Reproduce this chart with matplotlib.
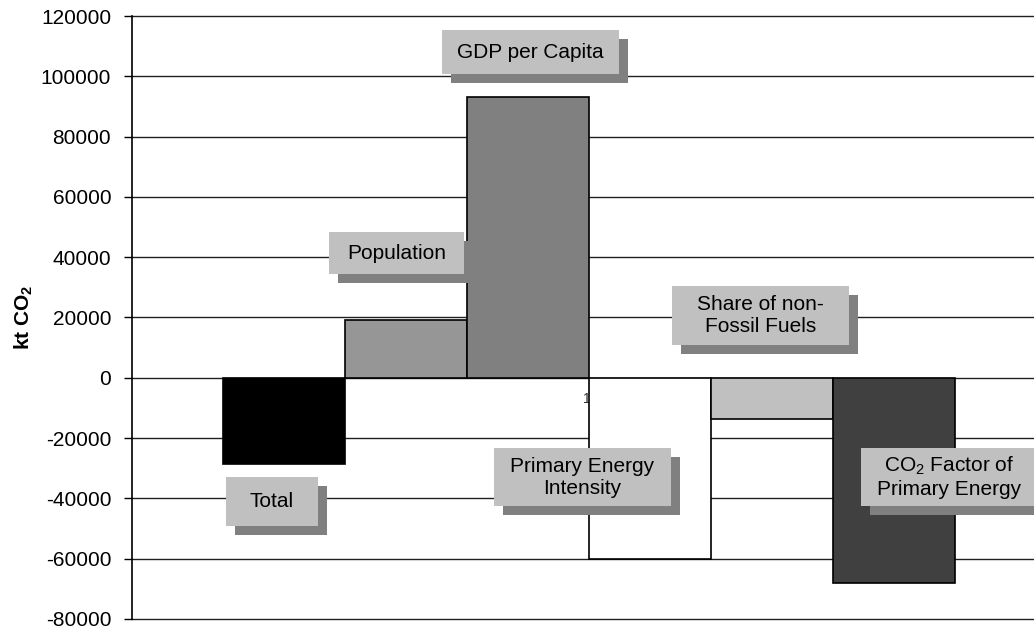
import matplotlib
matplotlib.use("Agg")
import matplotlib.pyplot as plt
from matplotlib.patches import Rectangle
import numpy as np

plt.rcParams['font.family'] = ['Liberation Sans', 'DejaVu Sans']
plt.rcParams['mathtext.fontset'] = 'custom'
plt.rcParams['mathtext.rm'] = 'Liberation Sans'
plt.rcParams['mathtext.bf'] = 'Liberation Sans:bold'
plt.rcParams['mathtext.default'] = 'regular'

# ---- data ----
series = ["Total", "Population", "GDP per Capita", "Primary Energy\nIntensity",
          "Share of non-\nFossil Fuels", "CO$_2$ Factor of\nPrimary Energy"]
values = [-28700, 19300, 93300, -60000, -13600, -68000]
colors = ["#000000", "#969696", "#808080", "#FFFFFF", "#C0C0C0", "#404040"]
category = ["1"]
yticks = [-80000, -60000, -40000, -20000, 0, 20000, 40000, 60000, 80000, 100000, 120000]

W, H = 1034, 629
FS = 15
fig = plt.figure(figsize=(W / 100, H / 100), dpi=100)
ax_l, ax_r, ax_t, ax_b = 132, 1046, 16, 619
ax = fig.add_axes([ax_l / W, 1 - ax_b / H, (ax_r - ax_l) / W, (ax_b - ax_t) / H])
ax.set_xlim(-3.746, 3.746)
ax.set_ylim(yticks[0], yticks[-1])

n = len(values)
xpos = np.arange(n) - (n - 1) / 2
ax.bar(xpos, values, width=1.0, color=colors, edgecolor="black", linewidth=1.2, zorder=3)

ax.set_yticks(yticks)
ax.set_yticklabels([str(t) for t in yticks], fontsize=FS)
ax.yaxis.grid(True, color="#202020", linewidth=1.0, zorder=0)
for gl in ax.get_ygridlines():
    gl.set_clip_on(False)
ax.set_axisbelow(True)
ax.set_xticks([])
for s in ["top", "right", "bottom"]:
    ax.spines[s].set_visible(False)
ax.spines["left"].set_linewidth(1.2)
ax.spines["left"].set_zorder(4)
ax.tick_params(axis="y", length=6, width=1, pad=9, direction="out")
ax.set_ylabel("kt CO$_2$", fontsize=FS, fontweight="bold")
ax.yaxis.set_label_coords(-(132 - 35) / (ax_r - ax_l), 0.5)

# category label at zero line
ax.annotate(category[0], xy=(0, 0), xytext=(-1.5, -15), textcoords="offset points",
            ha="center", va="center", fontsize=10, color="#303030", zorder=2)

# ---- text boxes with drop shadow (pixel layout) ----
boxes = [  # x0, y0, x1, y1 in pixels
    (226, 477, 318, 526),
    (329, 232, 464, 274),
    (442, 30, 619, 74),
    (494, 448, 671, 506),
    (672, 286, 849, 345),
    (861, 448, 1038, 506),
]
shadow_dx, shadow_dy = 9, 9
fx = lambda px: px / W
fy = lambda py: 1 - py / H
for label, (x0, y0, x1, y1) in zip(series, boxes):
    sh = Rectangle((fx(x0 + shadow_dx), fy(y1 + shadow_dy)), (x1 - x0) / W, (y1 - y0) / H,
                   transform=fig.transFigure, facecolor="#808080", edgecolor="none", zorder=5)
    fig.add_artist(sh)
    bx = Rectangle((fx(x0), fy(y1)), (x1 - x0) / W, (y1 - y0) / H,
                   transform=fig.transFigure, facecolor="#C0C0C0", edgecolor="none", zorder=6)
    fig.add_artist(bx)
    fig.text(fx((x0 + x1) / 2), fy((y0 + y1) / 2), label, ha="center", va="center",
             fontsize=FS, color="#000000", linespacing=1.2, zorder=7)

fig.savefig("out.png", dpi=100)
